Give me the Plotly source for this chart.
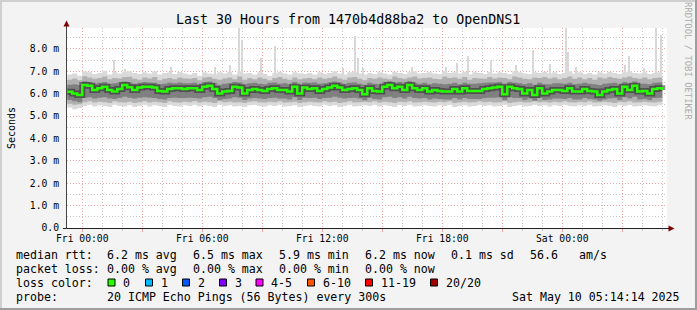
import plotly.graph_objects as go
import pandas as pd

# ---------------- data ----------------
title_text = "Last 30 Hours from 1470b4d88ba2 to OpenDNS1"
x_start = "2025-05-08 23:14:14"
x_end = "2025-05-10 05:14:14"
times = pd.date_range("2025-05-08 23:15", periods=120, freq="15min")

median_ms = [6.08,6.01,5.94,6.38,6.35,6.16,6.24,6.31,6.16,6.09,6.21,6.38,6.28,6.16,6.27,6.31,6.31,6.27,6.12,6.09,6.21,6.24,6.24,6.21,
             6.24,6.24,6.16,6.31,6.35,6.21,6.01,6.09,6.12,6.31,6.27,6.01,6.16,6.21,6.16,6.12,6.21,6.24,6.16,6.16,6.09,6.31,6.01,6.27,
             6.21,6.24,6.12,6.21,6.27,6.35,6.27,6.16,6.21,6.24,6.16,5.97,6.24,6.12,6.09,6.31,6.38,6.24,6.31,6.16,6.38,6.24,6.16,6.24,
             6.09,6.16,6.12,6.09,6.09,6.21,6.09,6.24,6.12,6.12,6.12,6.21,6.24,6.27,6.31,5.97,6.31,6.24,6.21,6.01,6.16,5.94,6.24,6.01,
             6.09,6.16,6.16,6.12,6.24,6.09,6.09,6.21,6.12,6.09,5.94,6.09,6.16,6.21,6.01,6.31,6.16,6.35,6.09,6.12,6.01,6.21,6.24,6.16]

smoke_hi1 = [6.85,6.90,6.80,7.00,6.95,6.88,6.92,7.02,6.85,6.95,6.90,6.98,7.00,6.92,6.88,6.95,6.90,7.00,6.85,6.92,6.95,6.88,6.98,6.90,
             6.85,6.92,6.80,6.95,6.90,6.88,6.95,6.90,6.98,6.85,7.00,6.90,6.92,6.85,6.95,6.88,6.80,6.92,6.98,6.90,6.85,6.95,6.90,6.88,
             6.92,6.85,6.95,6.88,6.92,7.00,6.90,6.85,6.95,6.98,6.90,6.85,6.92,6.88,6.95,6.90,6.85,6.98,6.92,6.88,6.95,7.00,6.90,6.92,
             6.95,6.90,6.88,7.00,6.92,6.95,6.90,6.98,6.85,6.95,6.92,6.88,6.98,6.90,6.95,6.92,6.88,7.00,6.95,6.90,6.88,6.95,6.92,6.98,
             6.90,6.95,6.88,6.92,7.00,6.90,6.95,6.88,6.92,6.85,6.95,6.90,6.98,6.92,6.88,6.95,7.00,6.92,6.90,6.95,6.88,6.92,6.95,6.90]
smoke_lo1 = [5.38,5.30,5.35,5.45,5.50,5.42,5.48,5.45,5.40,5.50,5.45,5.42,5.48,5.40,5.45,5.50,5.42,5.48,5.45,5.40,5.50,5.45,5.42,5.48,
             5.45,5.50,5.42,5.48,5.45,5.40,5.50,5.45,5.48,5.42,5.45,5.40,5.48,5.50,5.45,5.42,5.48,5.45,5.50,5.42,5.45,5.48,5.40,5.45,
             5.48,5.45,5.42,5.50,5.45,5.48,5.40,5.45,5.50,5.42,5.45,5.48,5.45,5.50,5.42,5.48,5.45,5.40,5.48,5.45,5.50,5.42,5.45,5.48,
             5.45,5.42,5.48,5.45,5.50,5.40,5.45,5.48,5.42,5.45,5.50,5.45,5.48,5.42,5.45,5.50,5.40,5.45,5.48,5.42,5.45,5.50,5.45,5.48,
             5.42,5.48,5.45,5.50,5.45,5.42,5.48,5.45,5.50,5.42,5.45,5.48,5.45,5.40,5.48,5.45,5.50,5.42,5.45,5.48,5.45,5.42,5.48,5.45]
smoke_hi2 = [6.62,6.68,6.60,6.78,6.72,6.66,6.70,6.76,6.64,6.70,6.68,6.74,6.75,6.66,6.62,6.72,6.68,6.74,6.60,6.66,6.70,6.64,6.72,6.68,
             6.66,6.70,6.60,6.72,6.74,6.66,6.62,6.68,6.72,6.64,6.76,6.62,6.70,6.64,6.72,6.66,6.60,6.70,6.74,6.66,6.62,6.72,6.64,6.68,
             6.70,6.64,6.72,6.66,6.70,6.76,6.68,6.62,6.72,6.74,6.66,6.60,6.70,6.66,6.72,6.68,6.64,6.76,6.70,6.66,6.72,6.76,6.68,6.70,
             6.72,6.66,6.64,6.76,6.70,6.72,6.66,6.74,6.62,6.70,6.68,6.66,6.74,6.68,6.72,6.70,6.64,6.76,6.72,6.66,6.64,6.72,6.70,6.74,
             6.68,6.72,6.64,6.70,6.76,6.66,6.72,6.64,6.70,6.62,6.72,6.68,6.74,6.70,6.66,6.72,6.76,6.70,6.66,6.72,6.64,6.70,6.72,6.68]
smoke_lo2 = [5.55,5.50,5.52,5.62,5.66,5.60,5.64,5.62,5.58,5.66,5.62,5.60,5.64,5.58,5.62,5.66,5.60,5.64,5.62,5.58,5.66,5.62,5.60,5.64,
             5.62,5.66,5.60,5.64,5.62,5.58,5.66,5.62,5.64,5.60,5.62,5.58,5.64,5.66,5.62,5.60,5.64,5.62,5.66,5.60,5.62,5.64,5.58,5.62,
             5.64,5.62,5.60,5.66,5.62,5.64,5.58,5.62,5.66,5.60,5.62,5.64,5.62,5.66,5.60,5.64,5.62,5.58,5.64,5.62,5.66,5.60,5.62,5.64,
             5.62,5.60,5.64,5.62,5.66,5.58,5.62,5.64,5.60,5.62,5.66,5.62,5.64,5.60,5.62,5.66,5.58,5.62,5.64,5.60,5.62,5.66,5.62,5.64,
             5.60,5.64,5.62,5.66,5.62,5.60,5.64,5.62,5.66,5.60,5.62,5.64,5.62,5.58,5.64,5.62,5.66,5.60,5.62,5.64,5.62,5.60,5.64,5.62]
smoke_hi3 = [6.40,6.42,6.38,6.55,6.52,6.45,6.48,6.52,6.44,6.46,6.50,6.54,6.50,6.44,6.48,6.52,6.50,6.48,6.42,6.44,6.48,6.46,6.50,6.46,
             6.46,6.48,6.42,6.52,6.54,6.46,6.40,6.44,6.46,6.52,6.50,6.42,6.46,6.48,6.44,6.42,6.48,6.50,6.44,6.46,6.42,6.52,6.40,6.50,
             6.48,6.50,6.44,6.46,6.50,6.54,6.50,6.44,6.48,6.50,6.44,6.40,6.48,6.44,6.42,6.52,6.55,6.48,6.52,6.44,6.55,6.48,6.44,6.48,
             6.42,6.46,6.44,6.42,6.44,6.48,6.42,6.48,6.44,6.44,6.46,6.48,6.50,6.50,6.52,6.40,6.52,6.48,6.46,6.42,6.46,6.40,6.48,6.42,
             6.42,6.46,6.46,6.44,6.48,6.42,6.44,6.48,6.44,6.42,6.38,6.44,6.46,6.48,6.42,6.52,6.46,6.54,6.44,6.44,6.42,6.48,6.50,6.46]
smoke_lo3 = [5.72,5.66,5.62,5.82,5.84,5.78,5.82,5.84,5.78,5.76,5.80,5.86,5.82,5.78,5.82,5.84,5.82,5.80,5.76,5.74,5.80,5.82,5.80,5.80,
             5.82,5.80,5.78,5.84,5.86,5.80,5.72,5.76,5.78,5.84,5.82,5.72,5.78,5.80,5.78,5.76,5.80,5.82,5.78,5.78,5.74,5.84,5.72,5.82,
             5.80,5.82,5.76,5.80,5.82,5.86,5.82,5.78,5.80,5.82,5.78,5.70,5.82,5.76,5.74,5.84,5.86,5.80,5.84,5.78,5.86,5.80,5.78,5.80,
             5.74,5.78,5.76,5.74,5.74,5.80,5.74,5.80,5.76,5.76,5.76,5.80,5.82,5.82,5.84,5.70,5.84,5.80,5.80,5.72,5.78,5.68,5.80,5.72,
             5.74,5.78,5.78,5.76,5.80,5.74,5.74,5.80,5.76,5.74,5.68,5.74,5.78,5.80,5.72,5.84,5.78,5.86,5.74,5.76,5.72,5.80,5.82,5.78]

spike_times = ["2025-05-09 01:34", "2025-05-09 02:08", "2025-05-09 04:26", "2025-05-09 06:38", "2025-05-09 07:23",
               "2025-05-09 07:50", "2025-05-09 07:58", "2025-05-09 08:56", "2025-05-09 09:38", "2025-05-09 13:02",
               "2025-05-09 13:38", "2025-05-09 13:46", "2025-05-09 14:02", "2025-05-09 16:29", "2025-05-09 18:11",
               "2025-05-09 18:44", "2025-05-09 19:17", "2025-05-09 20:26", "2025-05-09 21:41", "2025-05-09 22:32",
               "2025-05-09 23:23", "2025-05-10 00:11", "2025-05-10 00:16", "2025-05-10 00:41", "2025-05-10 03:08",
               "2025-05-10 03:20", "2025-05-10 04:05", "2025-05-10 04:41", "2025-05-10 04:56"]
spike_tops = [7.50, 7.08, 7.20, 7.20, 7.28, 8.93, 8.39, 7.57, 8.14, 7.15,
              8.58, 7.60, 7.15, 7.20, 7.20, 7.35, 7.68, 7.50, 7.30, 7.95,
              7.32, 8.93, 7.87, 7.20, 7.30, 7.68, 7.15, 8.93, 8.60]
spike_base = 6.7

y_ticks = [0, 1, 2, 3, 4, 5, 6, 7, 8]
y_ticktext = ["0.0", "1.0 m", "2.0 m", "3.0 m", "4.0 m", "5.0 m", "6.0 m", "7.0 m", "8.0 m"]
y_max = 8.93

legend_rows = [
    [("median rtt:", 16), ("6.2 ms avg", 107), ("6.5 ms max", 193), ("5.9 ms min", 279),
     ("6.2 ms now", 365), ("0.1 ms sd", 451), ("56.6", 530), ("am/s", 579)],
    [("packet loss:", 16), ("0.00 % avg", 107), ("0.00 % max", 193), ("0.00 % min", 279), ("0.00 % now", 365)],
    [("loss color:", 16)],
    [("probe:", 16), ("20 ICMP Echo Pings (56 Bytes) every 300s", 107)],
]
legend_row_y = [254.5, 268.5, 282.5, 296.5]
loss_labels = ["0", "1", "2", "3", "4-5", "6-10", "11-19", "20/20"]
loss_colors = ["#26ff00", "#00b8ff", "#0059ff", "#7e00ff", "#ff00ff", "#ff5500", "#ff0000", "#a00000"]
loss_box_x = [108, 145.5, 182.5, 219.5, 256, 307.5, 365.5, 430.5]
stamp_text = "Sat May 10 05:14:14 2025"

# ---------------- layout geometry ----------------
W, H = 697, 310
L, R, T, B = 67, 30, 28, 82
PW, PH = W - L - R, H - T - B
MONO = "DejaVu Sans Mono"


def px(x):
    return (x - L) / PW


def py(y):
    return (H - B - y) / PH


fig = go.Figure()

# spikes (outer smoke peaks)
fig.add_trace(go.Bar(x=pd.to_datetime(spike_times), y=[t - spike_base for t in spike_tops], base=spike_base,
                     width=6 * 60 * 1000, marker=dict(color="#d8d8d8", line=dict(width=0)), showlegend=False,
                     hoverinfo="skip"))

bands = [(smoke_lo1, smoke_hi1, "#dadada"), (smoke_lo2, smoke_hi2, "#b0b0b0"), (smoke_lo3, smoke_hi3, "#808080")]
for lo, hi, col in bands:
    fig.add_trace(go.Scatter(x=times, y=lo, mode="lines", line=dict(width=0, shape="hv"), showlegend=False,
                             hoverinfo="skip"))
    fig.add_trace(go.Scatter(x=times, y=hi, mode="lines", line=dict(width=0, shape="hv"), fill="tonexty",
                             fillcolor=col, showlegend=False, hoverinfo="skip"))

# dark core around the median
fig.add_trace(go.Scatter(x=times, y=median_ms, mode="lines", line=dict(color="rgba(40,40,40,0.55)", width=6, shape="hv"),
                         showlegend=False, hoverinfo="skip"))
fig.add_trace(go.Scatter(x=times, y=median_ms, mode="lines", line=dict(color="#26ff00", width=2.5, shape="hv"),
                         showlegend=False))

x_major = pd.date_range("2025-05-09 00:00", "2025-05-10 03:00", freq="3h")
x_text = [d.strftime("%a %H:%M") if d.hour % 6 == 0 else "" for d in x_major]

fig.update_xaxes(range=[x_start, x_end], type="date", tickvals=x_major, ticktext=x_text,
                 showgrid=True, gridcolor="#f0a8a8", griddash="1px,2px", gridwidth=1,
                 ticks="outside", ticklen=3, tickcolor="#f0a8a8", showline=False, zeroline=False,
                 ticklabelstandoff=-2,
                 tickfont=dict(family=MONO, size=9.7, color="#000"),
                 minor=dict(dtick=3600000, tick0="2025-05-09 00:00", showgrid=True, gridcolor="#c8c8c8",
                            griddash="1px,2px", ticks="outside", ticklen=2, tickcolor="#c8c8c8"))
fig.update_yaxes(range=[0, y_max], tickvals=y_ticks, ticktext=y_ticktext, showgrid=True,
                 gridcolor="#f0a8a8", griddash="1px,2px", ticks="", ticklabelstandoff=7,
                 showline=False, zeroline=False, tickfont=dict(family=MONO, size=9.7, color="#000"),
                 minor=dict(dtick=0.5, showgrid=True, gridcolor="#c8c8c8", griddash="1px,2px"))

shapes = []
# frame
shapes.append(dict(type="rect", xref="paper", yref="paper", x0=px(0), x1=px(W), y0=py(0), y1=py(2),
                   fillcolor="#cfcfcf", line=dict(width=0)))
shapes.append(dict(type="rect", xref="paper", yref="paper", x0=px(0), x1=px(2), y0=py(0), y1=py(H),
                   fillcolor="#cfcfcf", line=dict(width=0)))
shapes.append(dict(type="rect", xref="paper", yref="paper", x0=px(W - 2), x1=px(W), y0=py(0), y1=py(H),
                   fillcolor="#9e9e9e", line=dict(width=0)))
shapes.append(dict(type="rect", xref="paper", yref="paper", x0=px(0), x1=px(W), y0=py(H - 2), y1=py(H),
                   fillcolor="#9e9e9e", line=dict(width=0)))
# axes
shapes.append(dict(type="line", xref="paper", yref="paper", x0=px(63), x1=px(669), y0=py(228.5), y1=py(228.5),
                   line=dict(color="#222", width=1)))
shapes.append(dict(type="line", xref="paper", yref="paper", x0=px(66.5), x1=px(66.5), y0=py(229), y1=py(25),
                   line=dict(color="#444", width=1)))
# arrows
shapes.append(dict(type="path", xref="paper", yref="paper",
                   path=f"M {px(63.5)} {py(26.5)} L {px(69.5)} {py(26.5)} L {px(66.5)} {py(20.5)} Z",
                   fillcolor="#7f0000", line=dict(width=0)))
shapes.append(dict(type="path", xref="paper", yref="paper",
                   path=f"M {px(668.5)} {py(225.5)} L {px(668.5)} {py(231.5)} L {px(674.5)} {py(228.5)} Z",
                   fillcolor="#7f0000", line=dict(width=0)))
# loss colour boxes
for bx, col in zip(loss_box_x, loss_colors):
    shapes.append(dict(type="rect", xref="paper", yref="paper", x0=px(bx), x1=px(bx + 7), y0=py(279), y1=py(286),
                       fillcolor=col, line=dict(color="#000", width=1)))

ann = []


def text(t, x, y, size=11.6, anchor="left", color="#000", angle=0):
    ann.append(dict(text=t.replace(" ", "\u00a0"), x=px(x), y=py(y), xref="paper", yref="paper", showarrow=False,
                    xanchor=anchor, yanchor="middle", textangle=angle, borderpad=0,
                    font=dict(family=MONO, size=size, color=color)))


text(title_text, 347.5, 19, size=13.3, anchor="center")
text("Seconds", 11, 128, size=10, anchor="center", angle=-90)
text("RRDTOOL / TOBI OETIKER", 688, 61, size=8.9, anchor="center", color="#aaaaaa", angle=90)
for row, yy in zip(legend_rows, legend_row_y):
    for t, xx in row:
        text(t, xx - 1, yy)
for bx, lab in zip(loss_box_x, loss_labels):
    text(lab, bx + 14, legend_row_y[2])
text(stamp_text, 681, legend_row_y[3], anchor="right")

fig.update_layout(width=W, height=H, margin=dict(l=L, r=R, t=T, b=B, pad=0),
                  paper_bgcolor="#f3f3f3", plot_bgcolor="#ffffff", showlegend=False,
                  bargap=0, shapes=shapes, annotations=ann)

fig.write_html("out.html")
